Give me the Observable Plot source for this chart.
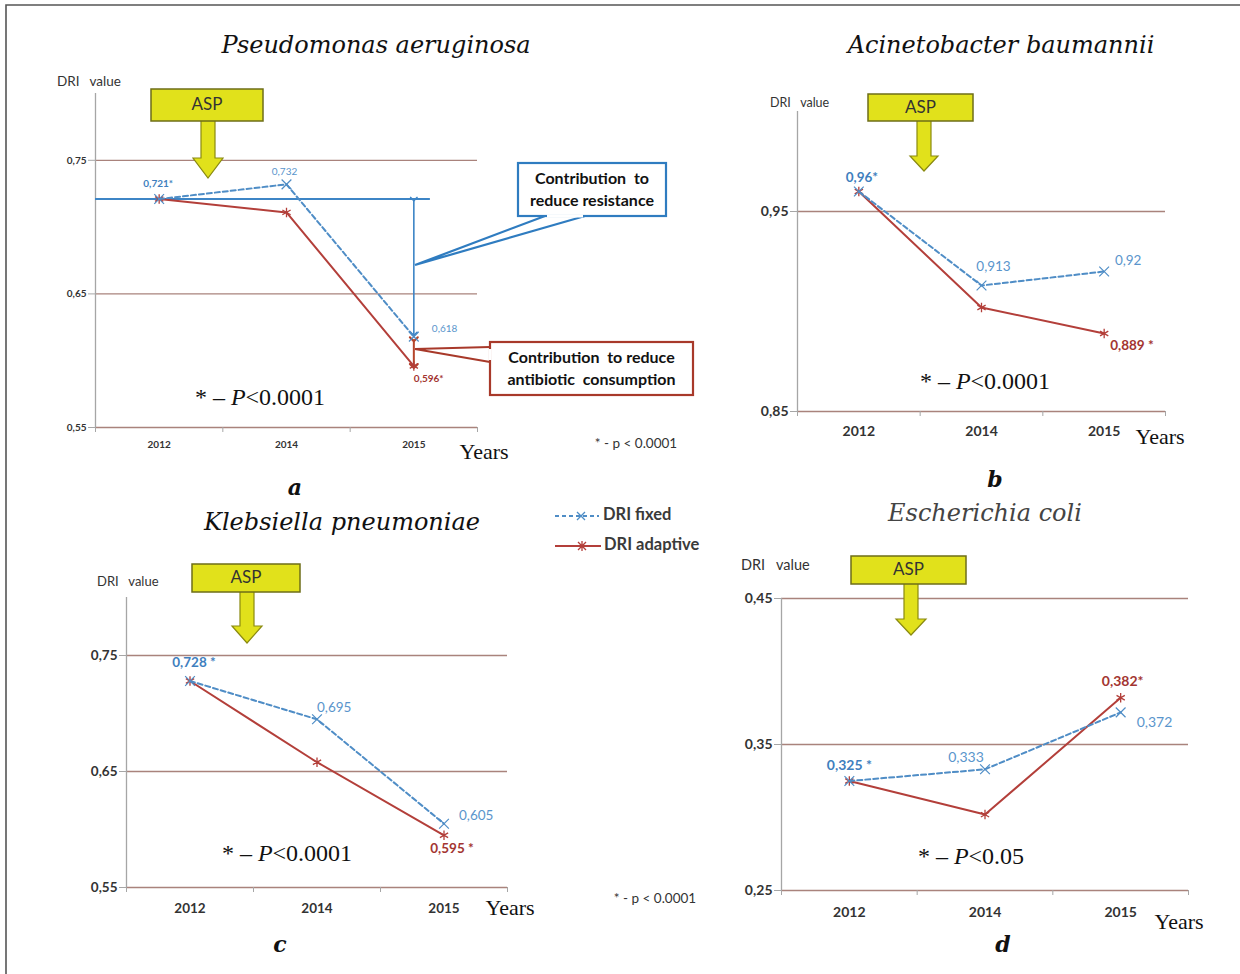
<!DOCTYPE html>
<html><head><meta charset="utf-8">
<script src="https://cdn.jsdelivr.net/npm/d3@7"></script>
<script src="https://cdn.jsdelivr.net/npm/@observablehq/plot@0.6"></script>
<style>
body{margin:0;background:#fff;}
#root{position:relative;width:1240px;height:974px;overflow:hidden;background:#fff;}
.abs{position:absolute;white-space:nowrap;line-height:1;}
.plot{position:absolute;}
.title{font-family:"DejaVu Serif",serif;font-style:italic;font-size:24px;color:#111;}
.letter{font-family:"DejaVu Serif",serif;font-style:italic;font-weight:bold;font-size:22px;color:#111;}
.years{font-family:"Liberation Serif",serif;font-size:22px;color:#111;}
.pval{font-family:"Liberation Serif",serif;font-size:24px;color:#111;}
.small{font-family:"Lato",sans-serif;color:#333;}
</style></head><body><div id="root"></div>
<script>
// ---------- data ----------
const years = ["2012", "2014", "2015"];
const paFixed    = [0.721, 0.732, 0.618];
const paAdaptive = [0.721, 0.711, 0.596];
const abFixed    = [0.96, 0.913, 0.92];
const abAdaptive = [0.96, 0.902, 0.889];
const kpFixed    = [0.728, 0.695, 0.605];
const kpAdaptive = [0.728, 0.658, 0.595];
const ecFixed    = [0.325, 0.333, 0.372];
const ecAdaptive = [0.325, 0.302, 0.382];
const seriesNames = ["DRI fixed", "DRI adaptive"];
const titles = ["Pseudomonas aeruginosa", "Acinetobacter baumannii", "Klebsiella pneumoniae", "Escherichia coli"];
const letters = ["a", "b", "c", "d"];

// ---------- styles ----------
const BLUE = "#4f8dc6", BLUE_T = "#5a95cc", BLUE_B = "#3f7fbe";
const RED = "#b33f3a", RED_T = "#a33531";
const GRID = "#a9837c", AXIS = "#a6a6a6";
const fmt = v => String(v).replace(".", ",");
const fmtTick = v => v.toFixed(2).replace(".", ",");

const panels = [
  {fixed: paFixed, adaptive: paAdaptive, yDomain: [0.55, 0.80], yTicks: [0.55, 0.65, 0.75], grid: [0.65, 0.75],
   left: 40, top: 70, width: 450, height: 390, mL: 55, mR: 13, mT: 23, mB: 33, tick: 10, xPad: 13, lab: 10, extra: true,
   labels: [
     {s: "fixed", i: 0, star: "*", bold: true, dx: -1, dy: -15, anchor: "middle"},
     {s: "fixed", i: 1, dx: -2, dy: -13, anchor: "middle"},
     {s: "fixed", i: 2, dx: 18, dy: -8, anchor: "start"},
     {s: "adaptive", i: 2, star: "*", bold: true, dx: 0, dy: 13, anchor: "start"}]},
  {fixed: abFixed, adaptive: abAdaptive, yDomain: [0.85, 1.0], yTicks: [0.85, 0.95], grid: [0.95],
   left: 740, top: 90, width: 440, height: 350, mL: 57, mR: 15, mT: 21, mB: 29, tick: 14, xPad: 15, lab: 13.5,
   labels: [
     {s: "fixed", i: 0, star: "*", bold: true, dx: 3, dy: -14, anchor: "middle"},
     {s: "fixed", i: 1, dx: 12, dy: -19, anchor: "middle"},
     {s: "fixed", i: 2, dx: 24, dy: -11, anchor: "middle"},
     {s: "adaptive", i: 2, star: " *", bold: true, dx: 6, dy: 12, anchor: "start"}]},
  {fixed: kpFixed, adaptive: kpAdaptive, yDomain: [0.55, 0.80], yTicks: [0.55, 0.65, 0.75], grid: [0.65, 0.75],
   left: 70, top: 580, width: 450, height: 340, mL: 56, mR: 13, mT: 17, mB: 33, tick: 13.5, xPad: 16, lab: 13.5,
   labels: [
     {s: "fixed", i: 0, star: " *", bold: true, dx: 4, dy: -18, anchor: "middle"},
     {s: "fixed", i: 1, dx: 0, dy: -12, anchor: "start"},
     {s: "fixed", i: 2, dx: 15, dy: -8, anchor: "start"},
     {s: "adaptive", i: 2, star: " *", bold: true, dx: 8, dy: 13, anchor: "middle"}]},
  {fixed: ecFixed, adaptive: ecAdaptive, yDomain: [0.25, 0.45], yTicks: [0.25, 0.35, 0.45], grid: [0.35, 0.45],
   left: 720, top: 580, width: 480, height: 340, mL: 61, mR: 12, mT: 18, mB: 30, tick: 14, xPad: 17, lab: 14,
   labels: [
     {s: "fixed", i: 0, star: " *", bold: true, dx: 0, dy: -15, anchor: "middle"},
     {s: "fixed", i: 1, dx: -19, dy: -12, anchor: "middle"},
     {s: "fixed", i: 2, dx: 16, dy: 10, anchor: "start"},
     {s: "adaptive", i: 2, star: "*", bold: true, dx: 2, dy: -16, anchor: "middle"}]}
];

const root = document.getElementById("root");

function addText(html, x, y, cls, style = {}, anchor = "middle") {
  const d = document.createElement("div");
  d.className = "abs " + cls;
  d.innerHTML = html;
  Object.assign(d.style, {left: x + "px", top: y + "px"}, style);
  d.style.transform = anchor === "middle" ? "translate(-50%,-50%)" : anchor === "start" ? "translate(0,-50%)" : "translate(-100%,-50%)";
  root.appendChild(d);
}

function buildPanel(cfg) {
  const fixed = cfg.fixed.map((v, i) => ({i, v, year: years[i], series: seriesNames[0]}));
  const adaptive = cfg.adaptive.map((v, i) => ({i, v, year: years[i], series: seriesNames[1]}));
  const marks = [
    Plot.ruleY(cfg.grid, {stroke: GRID, strokeWidth: 1.3}),
    Plot.ruleY([cfg.yDomain[0]], {stroke: GRID, strokeWidth: 1.3}),
    Plot.ruleX([-0.5], {stroke: AXIS, strokeWidth: 1.3}),
    Plot.axisY({ticks: cfg.yTicks, tickFormat: fmtTick, tickSize: 7, tickPadding: 2, stroke: AXIS, label: null,
      fill: "#333", fontSize: cfg.tick, fontWeight: "bold", fontFamily: "Lato"}),
    Plot.axisX({ticks: [-0.5, 0.5, 1.5, 2.5], tickSize: 5, tickFormat: () => "", stroke: AXIS, label: null}),
    Plot.axisX({ticks: [0, 1, 2], tickSize: 0, tickPadding: cfg.xPad, tickFormat: i => years[i], label: null,
      fill: "#333", fontSize: cfg.tick, fontWeight: "bold", fontFamily: "Lato"})
  ];
  if (cfg.extra) {
    marks.push(
      Plot.ruleY([cfg.fixed[0]], {x1: -0.5, x2: 2.13, stroke: "#3d85c6", strokeWidth: 2}),
      Plot.link([cfg.fixed], {x1: 2, x2: 2, y1: d => d[0], y2: d => d[2] + 0.002, stroke: "#3d85c6", strokeWidth: 1.6,
        markerStart: "arrow", markerEnd: "arrow"}),
      Plot.link([cfg], {x1: 2, x2: 2, y1: d => d.fixed[2] - 0.002, y2: d => d.adaptive[2], stroke: "#b5452a", strokeWidth: 2,
        markerStart: "arrow", markerEnd: "arrow"})
    );
  }
  marks.push(
    Plot.line(adaptive, {x: "i", y: "v", stroke: RED, strokeWidth: 2}),
    Plot.dot(adaptive, {x: "i", y: "v", symbol: "asterisk", r: 4.5, stroke: RED, strokeWidth: 1.3}),
    Plot.line(fixed, {x: "i", y: "v", stroke: BLUE, strokeWidth: 2, strokeDasharray: "5,3"}),
    Plot.dot(fixed, {x: "i", y: "v", symbol: "times", r: 4.5, stroke: BLUE, strokeWidth: 1.2})
  );
  for (const l of cfg.labels) {
    const src = l.s === "fixed" ? cfg.fixed : cfg.adaptive;
    const color = l.s === "fixed" ? (l.bold ? BLUE_B : BLUE_T) : RED_T;
    marks.push(Plot.text([{i: l.i, v: src[l.i], t: fmt(src[l.i]) + (l.star || "")}], {
      x: "i", y: "v", text: "t", dx: l.dx, dy: l.dy, textAnchor: l.anchor, fill: color,
      fontWeight: l.bold ? "bold" : "normal", fontSize: cfg.lab, fontFamily: "Lato"}));
  }
  const svg = Plot.plot({
    width: cfg.width, height: cfg.height,
    marginLeft: cfg.mL, marginRight: cfg.mR, marginTop: cfg.mT, marginBottom: cfg.mB,
    x: {type: "linear", domain: [-0.5, 2.5], axis: null, label: null},
    y: {domain: cfg.yDomain, axis: null, label: null},
    style: {background: "transparent", overflow: "visible", fontFamily: "Lato"},
    marks
  });
  svg.classList.add("plot");
  svg.style.left = cfg.left + "px";
  svg.style.top = cfg.top + "px";
  root.appendChild(svg);
}

panels.forEach(buildPanel);

// ---------- overlay annotations ----------
const ov = d3.select(root).append("svg").attr("width", 1240).attr("height", 974)
  .style("position", "absolute").style("left", "0px").style("top", "0px");

// frame
ov.append("path").attr("d", "M6,1000V5H1250").attr("fill", "none").attr("stroke", "#555").attr("stroke-width", 1.6);

function asp(b) {
  const {cx, x1, x2, y1, y2, headY, tipY, sw, hw} = b;
  ov.append("path")
    .attr("d", `M${cx - sw / 2},${y2}V${headY}H${cx - hw / 2}L${cx},${tipY}L${cx + hw / 2},${headY}H${cx + sw / 2}V${y2}`)
    .attr("fill", "#e1e11b").attr("stroke", "#8a8a10").attr("stroke-width", 1.2);
  ov.append("rect").attr("x", x1).attr("y", y1).attr("width", x2 - x1).attr("height", y2 - y1)
    .attr("fill", "#e1e11b").attr("stroke", "#6e6e18").attr("stroke-width", 1.5);
  ov.append("text").attr("x", (x1 + x2) / 2).attr("y", (y1 + y2) / 2 + 1).attr("text-anchor", "middle")
    .attr("dominant-baseline", "middle").attr("font-family", "Lato").attr("font-size", 17).attr("fill", "#333").text("ASP");
}
asp({cx: 208, x1: 151, x2: 263, y1: 89, y2: 121, headY: 158, tipY: 178, sw: 14, hw: 30});
asp({cx: 924, x1: 868, x2: 973, y1: 94, y2: 121, headY: 156, tipY: 171, sw: 14, hw: 28});
asp({cx: 247, x1: 192, x2: 300, y1: 564, y2: 592, headY: 626, tipY: 643, sw: 14, hw: 30});
asp({cx: 911, x1: 851, x2: 966, y1: 556, y2: 584, headY: 619, tipY: 635, sw: 14, hw: 30});

// callouts (panel a)
function callout(box, ptr, color, lines) {
  ov.append("path").attr("d", ptr).attr("fill", "#fff").attr("stroke", color).attr("stroke-width", 2.2);
  ov.append("rect").attr("x", box[0]).attr("y", box[1]).attr("width", box[2] - box[0]).attr("height", box[3] - box[1])
    .attr("fill", "#fff").attr("stroke", color).attr("stroke-width", 2.2);
  const cx = (box[0] + box[2]) / 2, cy = (box[1] + box[3]) / 2;
  lines.forEach((t, k) => ov.append("text").attr("x", cx).attr("y", cy + (k - 0.5) * 22 + 1)
    .attr("text-anchor", "middle").attr("dominant-baseline", "middle").attr("font-family", "Lato")
    .attr("font-weight", "bold").attr("font-size", 16).attr("fill", "#111").style("white-space", "pre").text(t));
}
callout([518, 163, 666, 216], "M545,216L415,265L585,216", "#2f7cc0", ["Contribution  to", "reduce resistance"]);
callout([490, 342, 693, 395], "M490,347L415,349L490,362", "#a8392a", ["Contribution  to reduce", "antibiotic  consumption"]);
ov.append("path").attr("d", "M547,216L583,216").attr("stroke", "#fff").attr("stroke-width", 3);
ov.append("path").attr("d", "M490,349L490,360").attr("stroke", "#fff").attr("stroke-width", 3);

// legend
const lg = ov.append("g");
lg.append("line").attr("x1", 555).attr("x2", 599).attr("y1", 516).attr("y2", 516).attr("stroke", BLUE).attr("stroke-width", 2).attr("stroke-dasharray", "4,3");
lg.append("path").attr("d", "M577,512L585,520M577,520L585,512").attr("stroke", BLUE).attr("stroke-width", 1.3);
lg.append("line").attr("x1", 555).attr("x2", 601).attr("y1", 546).attr("y2", 546).attr("stroke", RED).attr("stroke-width", 2.2);
lg.append("path").attr("d", "M578,542L586,550M578,550L586,542M582,541V551").attr("stroke", RED).attr("stroke-width", 1.3);
lg.append("text").attr("x", 603).attr("y", 516).attr("dominant-baseline", "middle").attr("font-family", "Lato").attr("font-weight", "bold").attr("font-size", 16.5).attr("fill", "#3a3a3a").text(seriesNames[0]);
lg.append("text").attr("x", 604).attr("y", 546).attr("dominant-baseline", "middle").attr("font-family", "Lato").attr("font-weight", "bold").attr("font-size", 16.5).attr("fill", "#3a3a3a").text(seriesNames[1]);

// ---------- text ----------
addText(titles[0], 376, 45, "title");
addText(titles[1], 1001, 45, "title");
addText(titles[2], 342, 522, "title");
addText(titles[3], 985, 513, "title", {color: "#444", fontWeight: "normal"});
addText(letters[0], 295, 487, "letter");
addText(letters[1], 995, 479, "letter");
addText(letters[2], 280, 944, "letter");
addText(letters[3], 1003, 944, "letter");

addText("Years", 484, 452, "years");
addText("Years", 1160, 437, "years");
addText("Years", 510, 908, "years");
addText("Years", 1179, 922, "years");

addText("* – <i>P</i>&lt;0.0001", 260, 397, "pval");
addText("* – <i>P</i>&lt;0.0001", 985, 381, "pval");
addText("* – <i>P</i>&lt;0.0001", 287, 853, "pval");
addText("* – <i>P</i>&lt;0.05", 971, 856, "pval");

addText("* - p &lt; 0.0001", 636, 444, "small", {fontSize: "13.5px"});
addText("* - p &lt; 0.0001", 655, 899, "small", {fontSize: "13.5px"});

addText("DRI&nbsp;&nbsp; value", 57, 82, "small", {fontSize: "13.5px"}, "start");
addText("DRI&nbsp;&nbsp; value", 770, 103, "small", {fontSize: "12.5px"}, "start");
addText("DRI&nbsp;&nbsp; value", 97, 581, "small", {fontSize: "13px"}, "start");
addText("DRI&nbsp;&nbsp; value", 741, 565, "small", {fontSize: "14.5px"}, "start");
</script></body></html>
